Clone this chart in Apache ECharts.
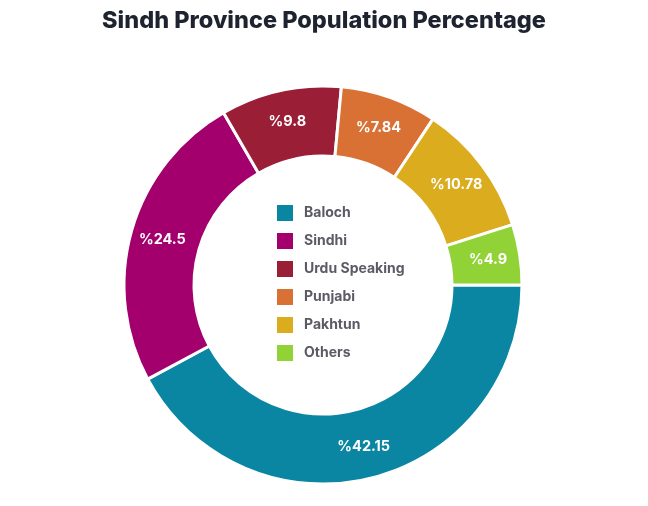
<!DOCTYPE html>
<html>
<head>
<meta charset="utf-8">
<script src="https://cdn.jsdelivr.net/npm/echarts@6/dist/echarts.min.js"></script>
<style>
html,body{margin:0;padding:0;background:#fff;}
#chart{width:648px;height:506px;}
</style>
</head>
<body>
<div id="chart"></div>
<script>
var categories = ['Baloch', 'Sindhi', 'Urdu Speaking', 'Punjabi', 'Pakhtun', 'Others'];
var values = [42.15, 24.5, 9.8, 7.84, 10.78, 4.9];
var colors = ['#0a86a3', '#a3006e', '#9b1e37', '#d97135', '#daac1e', '#91d237'];

var chart = echarts.init(document.getElementById('chart'));
var data = categories.map(function (c, i) {
  return { name: c, value: values[i], itemStyle: { color: colors[i] } };
});
chart.setOption({
  backgroundColor: '#ffffff',
  animation: false,
  title: {
    text: 'Sindh Province Population Percentage',
    left: 'center',
    top: 4,
    textStyle: { fontFamily: 'Inter', fontWeight: 800, fontSize: 23.5, color: '#1e2330' }
  },
  legend: {
    orient: 'vertical',
    left: 275,
    top: 203,
    padding: 0,
    itemWidth: 18,
    itemHeight: 18,
    itemGap: 8,
    icon: 'rect',
    data: categories,
    selectedMode: false,
    textStyle: { fontFamily: 'Inter', fontWeight: 700, fontSize: 14, color: '#5b5b66', padding: [0, 0, 0, 5] }
  },
  series: [{
    type: 'pie',
    center: [323, 285],
    radius: [129, 199],
    startAngle: 0,
    clockwise: true,
    avoidLabelOverlap: false,
    itemStyle: { borderColor: '#ffffff', borderWidth: 3 },
    label: {
      show: true,
      position: 'inside',
      formatter: function (p) { return '%' + p.value; },
      color: '#ffffff',
      fontFamily: 'Inter',
      fontWeight: 700,
      fontSize: 14.5
    },
    labelLine: { show: false },
    data: data
  }]
});
</script>
</body>
</html>
